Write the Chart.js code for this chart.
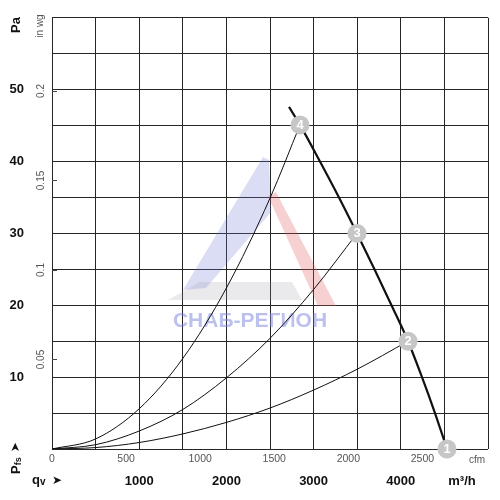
<!DOCTYPE html>
<html>
<head>
<meta charset="utf-8">
<script src="https://cdn.jsdelivr.net/npm/chart.js@4"></script>
<style>
  html, body { margin: 0; padding: 0; background: #fff; }
  #wrap { width: 500px; height: 500px; }
</style>
</head>
<body>
<div id="wrap"><canvas id="chart"></canvas></div>
<script>
  // fan curve, q in m³/h, p in Pa
  const fanFlow = [2718, 2844, 3073, 3291, 3498, 3698, 3893, 4083, 4243, 4392, 4530];
  const fanPressure = [47.6, 45.1, 40.0, 35.0, 30.0, 25.0, 20.0, 15.0, 10.0, 5.0, 0];

  // system curves through the operating points
  const sys4Flow = [0, 500, 1000, 1500, 2000, 2500, 2844];
  const sys4Pressure = [0, 1.4, 5.6, 12.6, 22.4, 34.9, 45.1];
  const sys3Flow = [0, 500, 1000, 1500, 2000, 2500, 3000, 3498];
  const sys3Pressure = [0, 0.6, 2.5, 5.5, 9.9, 15.4, 22.2, 30.0];
  const sys2Flow = [0, 500, 1000, 1500, 2000, 2500, 3000, 3500, 4083];
  const sys2Pressure = [0, 0.2, 0.9, 2.1, 3.7, 5.7, 8.2, 11.1, 15.0];

  // operating points 1..4
  const opLabels = ["1", "2", "3", "4"];
  const opFlow = [4530, 4083, 3498, 2844];
  const opPressure = [0, 15.0, 30.0, 45.1];

  // axis ranges / ticks
  const flowMax = 5000;        // m³/h
  const flowStep = 500;
  const flowLabels = [1000, 2000, 3000, 4000];
  const cfmPerM3h = 1 / 1.699;
  const cfmTicks = [0, 500, 1000, 1500, 2000, 2500];
  const paMax = 60;
  const paStep = 5;
  const paLabels = [10, 20, 30, 40, 50];
  const inwgPerPa = 1 / 249.089;
  const inwgTicks = [0.05, 0.1, 0.15, 0.2];

  const FONT = "'Liberation Sans', Arial, sans-serif";
  const GRID = "#262626";

  function pts(xs, ys) {
    return xs.map((x, i) => ({ x, y: ys[i] }));
  }

  function curve(xs, ys, width) {
    return {
      data: pts(xs, ys),
      showLine: true,
      borderColor: "#111",
      borderWidth: width,
      pointRadius: 0,
      cubicInterpolationMode: "monotone",
    };
  }

  const extras = {
    id: "extras",
    beforeDatasetsDraw(chart) {
      const ctx = chart.ctx;
      ctx.save();
      // faint logo watermark
      ctx.fillStyle = "rgba(110,120,215,0.25)";
      ctx.beginPath();
      ctx.moveTo(263, 157); ctx.lineTo(269, 160); ctx.lineTo(271, 212);
      ctx.lineTo(206, 288); ctx.lineTo(183, 290); ctx.closePath();
      ctx.fill();
      ctx.fillStyle = "rgba(225,90,90,0.28)";
      ctx.beginPath();
      ctx.moveTo(268, 196); ctx.lineTo(276, 192); ctx.lineTo(336, 306);
      ctx.lineTo(318, 306); ctx.closePath();
      ctx.fill();
      ctx.fillStyle = "rgba(150,150,160,0.2)";
      ctx.beginPath();
      ctx.moveTo(200, 282); ctx.lineTo(292, 282); ctx.lineTo(302, 300);
      ctx.lineTo(168, 300); ctx.closePath();
      ctx.fill();
      ctx.fillStyle = "rgba(120,130,220,0.5)";
      ctx.font = "bold 21px " + FONT;
      ctx.textAlign = "center";
      ctx.textBaseline = "middle";
      ctx.fillText("СНАБ-РЕГИОН", 250, 321);
      ctx.restore();
    },
    afterDatasetsDraw(chart) {
      const ctx = chart.ctx;
      const meta = chart.getDatasetMeta(4);
      ctx.save();
      ctx.fillStyle = "#fff";
      ctx.font = "bold 13px " + FONT;
      ctx.textAlign = "center";
      ctx.textBaseline = "middle";
      meta.data.forEach((p, i) => ctx.fillText(opLabels[i], p.x, p.y + 0.5));
      ctx.restore();
    },
    afterDraw(chart) {
      const ctx = chart.ctx;
      const area = chart.chartArea;
      const yw = chart.scales.yw;
      ctx.save();
      // small inward ticks for in wg
      ctx.strokeStyle = "#444";
      ctx.lineWidth = 1;
      inwgTicks.forEach((v) => {
        const y = Math.round(yw.getPixelForValue(v)) + 0.5;
        ctx.beginPath();
        ctx.moveTo(area.left, y);
        ctx.lineTo(area.left + 5, y);
        ctx.stroke();
      });

      ctx.textBaseline = "middle";
      // Pa title
      ctx.save();
      ctx.translate(16, 25);
      ctx.rotate(-Math.PI / 2);
      ctx.fillStyle = "#111";
      ctx.font = "bold 13px " + FONT;
      ctx.textAlign = "center";
      ctx.fillText("Pa", 0, 0);
      ctx.restore();
      // in wg title
      ctx.save();
      ctx.translate(40, 26);
      ctx.rotate(-Math.PI / 2);
      ctx.fillStyle = "#555";
      ctx.font = "10px " + FONT;
      ctx.textAlign = "center";
      ctx.fillText("in wg", 0, 0);
      ctx.restore();
      // Pfs arrow
      ctx.save();
      ctx.translate(16, 474);
      ctx.rotate(-Math.PI / 2);
      ctx.fillStyle = "#111";
      ctx.textAlign = "left";
      ctx.font = "bold 13px " + FONT;
      ctx.fillText("P", 0, 0);
      let w = ctx.measureText("P").width;
      ctx.font = "bold 9px " + FONT;
      ctx.fillText("fs", w, 3);
      w += ctx.measureText("fs").width + 5;
      ctx.font = "12px 'DejaVu Sans', sans-serif";
      ctx.fillText("➤", w, 0);
      ctx.restore();
      // qv arrow
      ctx.fillStyle = "#111";
      ctx.textAlign = "left";
      ctx.font = "bold 13px " + FONT;
      ctx.fillText("q", 32, 480);
      const qw = ctx.measureText("q").width;
      ctx.font = "bold 10px " + FONT;
      ctx.fillText("v", 32 + qw, 482);
      ctx.font = "12px 'DejaVu Sans', sans-serif";
      ctx.fillText("➤", 52, 481);
      // unit labels
      ctx.fillStyle = "#555";
      ctx.font = "10px " + FONT;
      ctx.textAlign = "center";
      ctx.fillText("cfm", 477, 460);
      ctx.fillStyle = "#111";
      ctx.font = "bold 13px " + FONT;
      ctx.fillText("m³/h", 462, 481);
      ctx.restore();
    },
  };

  new Chart(document.getElementById("chart").getContext("2d"), {
    type: "scatter",
    data: {
      datasets: [
        curve(sys2Flow, sys2Pressure, 1),
        curve(sys3Flow, sys3Pressure, 1),
        curve(sys4Flow, sys4Pressure, 1),
        curve(fanFlow, fanPressure, 2.2),
        {
          data: pts(opFlow, opPressure),
          showLine: false,
          pointRadius: 9.5,
          pointBackgroundColor: "#c6c6c6",
          pointBorderWidth: 0,
          clip: false,
          order: -1,
        },
      ],
    },
    options: {
      responsive: true,
      maintainAspectRatio: false,
      animation: false,
      layout: { padding: { top: 14, right: 12, left: 0, bottom: 0 } },
      plugins: { legend: { display: false }, tooltip: { enabled: false } },
      scales: {
        x: {
          type: "linear",
          position: "bottom",
          weight: 1,
          min: 0,
          max: flowMax,
          grid: { color: GRID, lineWidth: 1, drawTicks: false },
          border: { display: false },
          ticks: {
            stepSize: flowStep,
            autoSkip: false,
            maxRotation: 0,
            padding: 5,
            color: "#111",
            font: { family: FONT, size: 13, weight: "bold" },
            callback: (v) => (flowLabels.includes(v) ? String(v) : ""),
          },
          afterFit: (s) => { s.height = 31; },
        },
        xc: {
          type: "linear",
          position: "bottom",
          weight: 0,
          min: 0,
          max: flowMax * cfmPerM3h,
          grid: { display: false, drawTicks: false },
          border: { display: false },
          afterBuildTicks: (s) => { s.ticks = cfmTicks.map((v) => ({ value: v })); },
          ticks: {
            autoSkip: false,
            maxRotation: 0,
            padding: 4,
            color: "#555",
            font: { family: FONT, size: 10.5 },
            callback: (v) => String(v),
          },
          afterFit: (s) => { s.height = 20; },
        },
        y: {
          type: "linear",
          position: "left",
          weight: 1,
          min: 0,
          max: paMax,
          grid: { color: GRID, lineWidth: 1, drawTicks: false },
          border: { display: false },
          ticks: {
            stepSize: paStep,
            autoSkip: false,
            padding: 10,
            crossAlign: "near",
            color: "#111",
            font: { family: FONT, size: 13, weight: "bold" },
            callback: (v) => (paLabels.includes(v) ? String(v) : ""),
          },
          afterFit: (s) => { s.width = 34; },
        },
        yw: {
          type: "linear",
          position: "left",
          weight: 0,
          min: 0,
          max: paMax * inwgPerPa,
          grid: { display: false, drawTicks: false },
          border: { display: false },
          afterBuildTicks: (s) => { s.ticks = inwgTicks.map((v) => ({ value: v })); },
          ticks: {
            autoSkip: false,
            minRotation: 90,
            maxRotation: 90,
            crossAlign: "center",
            padding: 1,
            color: "#555",
            font: { family: FONT, size: 10 },
            callback: (v) => String(v),
          },
          afterFit: (s) => { s.width = 18; },
        },
      },
    },
    plugins: [extras],
  });
</script>
</body>
</html>
